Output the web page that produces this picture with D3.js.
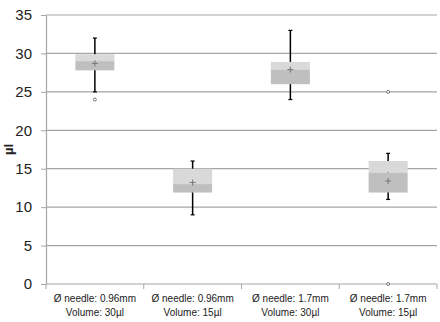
<!DOCTYPE html>
<meta charset="utf-8">
<head>
    <script src="https://d3js.org/d3.v7.min.js"></script>
</head>
<style>
    body { margin: 0; background: #fff; }
    svg { display: block; }
</style>
<body>
<div id="chart"></div>
<script>
// box plot data, one entry per needle/volume group
const groups = ["Ø needle: 0.96mm|Volume: 30µl", "Ø needle: 0.96mm|Volume: 15µl",
                "Ø needle: 1.7mm|Volume: 30µl", "Ø needle: 1.7mm|Volume: 15µl"];
const whiskerLow  = [25, 9, 24, 11];
const q1          = [27.8, 11.9, 26, 11.9];
const median      = [29, 13, 27.9, 14.5];
const q3          = [29.9, 15, 28.9, 16];
const whiskerHigh = [32, 16, 33, 17];
const means       = [28.7, 13.2, 27.9, 13.4];
const outliers    = [[24], [], [], [25, 0]];
const yTicks      = [0, 5, 10, 15, 20, 25, 30, 35];

const margin = { top: 15, right: 3, bottom: 38, left: 46 },
    width = 440 - margin.left - margin.right,
    height = 322 - margin.top - margin.bottom;

const svg = d3.select("#chart").append("svg")
    .attr("width", 440).attr("height", 322)
    .append("g")
    .attr("transform", `translate(${margin.left},${margin.top})`);

const x = d3.scaleBand().domain(groups).range([0, width]);
const y = d3.scaleLinear().domain([0, 35]).range([height, 0]);

// gridlines
svg.append("g").selectAll("line").data(yTicks.slice(1)).join("line")
    .attr("x1", 0).attr("x2", width)
    .attr("y1", d => y(d)).attr("y2", d => y(d))
    .attr("stroke", "#a6a6a6").attr("stroke-width", 1.2);

// y axis
const yAxis = svg.append("g")
    .call(d3.axisLeft(y).tickValues(yTicks).tickSize(5).tickPadding(9).tickSizeOuter(0));
yAxis.select(".domain").attr("stroke", "#a6a6a6").attr("stroke-width", 1.2);
yAxis.selectAll(".tick line").attr("stroke", "#a6a6a6");
yAxis.selectAll("text").attr("font-family", "Liberation Sans, Arial, sans-serif")
    .attr("font-size", 15).attr("fill", "#222");

// x axis with ticks at category boundaries
const xAxis = svg.append("g").attr("transform", `translate(0,${height})`);
xAxis.append("line").attr("x1", 0).attr("x2", width)
    .attr("stroke", "#a6a6a6").attr("stroke-width", 1.2);
xAxis.selectAll(".bt").data(groups.concat(["end"])).join("line")
    .attr("x1", (d, i) => i * x.bandwidth()).attr("x2", (d, i) => i * x.bandwidth())
    .attr("y1", 0).attr("y2", 5).attr("stroke", "#a6a6a6");
const lbl = xAxis.selectAll(".lbl").data(groups).join("text")
    .attr("text-anchor", "middle")
    .attr("font-family", "Liberation Sans, Arial, sans-serif")
    .attr("font-size", 10).attr("fill", "#222");
lbl.append("tspan").attr("x", d => x(d) + x.bandwidth() / 2).attr("y", 18)
    .text(d => d.split("|")[0]);
lbl.append("tspan").attr("x", d => x(d) + x.bandwidth() / 2).attr("y", 32)
    .text(d => d.split("|")[1]);

// y label
svg.append("text")
    .attr("transform", `translate(${-33},${y(17.5)}) rotate(-90)`)
    .attr("text-anchor", "middle")
    .attr("font-family", "Liberation Sans, Arial, sans-serif")
    .attr("font-weight", "bold").attr("font-size", 13).attr("fill", "#222")
    .text("µl");

const bw = 39;
const boxes = svg.append("g").selectAll("g").data(groups).join("g")
    .attr("transform", d => `translate(${x(d) + x.bandwidth() / 2},0)`);

// whiskers
boxes.append("line")
    .attr("y1", (d, i) => y(whiskerLow[i])).attr("y2", (d, i) => y(whiskerHigh[i]))
    .attr("stroke", "#000").attr("stroke-width", 1.5);
boxes.append("line").attr("x1", -2).attr("x2", 2)
    .attr("y1", (d, i) => y(whiskerHigh[i])).attr("y2", (d, i) => y(whiskerHigh[i]))
    .attr("stroke", "#000").attr("stroke-width", 1.2);
boxes.append("line").attr("x1", -2).attr("x2", 2)
    .attr("y1", (d, i) => y(whiskerLow[i])).attr("y2", (d, i) => y(whiskerLow[i]))
    .attr("stroke", "#000").attr("stroke-width", 1.2);

// upper box (median..q3)
boxes.append("rect").attr("x", -bw / 2).attr("width", bw)
    .attr("y", (d, i) => y(q3[i])).attr("height", (d, i) => y(median[i]) - y(q3[i]))
    .attr("fill", "#d9d9d9");
// lower box (q1..median)
boxes.append("rect").attr("x", -bw / 2).attr("width", bw)
    .attr("y", (d, i) => y(median[i])).attr("height", (d, i) => y(q1[i]) - y(median[i]))
    .attr("fill", "#bfbfbf");

// mean marker
boxes.append("path")
    .attr("d", (d, i) => `M-3,${y(means[i])}H3M0,${y(means[i]) - 3}V${y(means[i]) + 3}`)
    .attr("stroke", "#777").attr("stroke-width", 1);

// outliers
boxes.each(function (d, i) {
    d3.select(this).selectAll("circle").data(outliers[i]).join("circle")
        .attr("cy", v => y(v)).attr("r", 1.5)
        .attr("fill", "#fff").attr("stroke", "#555").attr("stroke-width", 0.8);
});
</script>
</body>
